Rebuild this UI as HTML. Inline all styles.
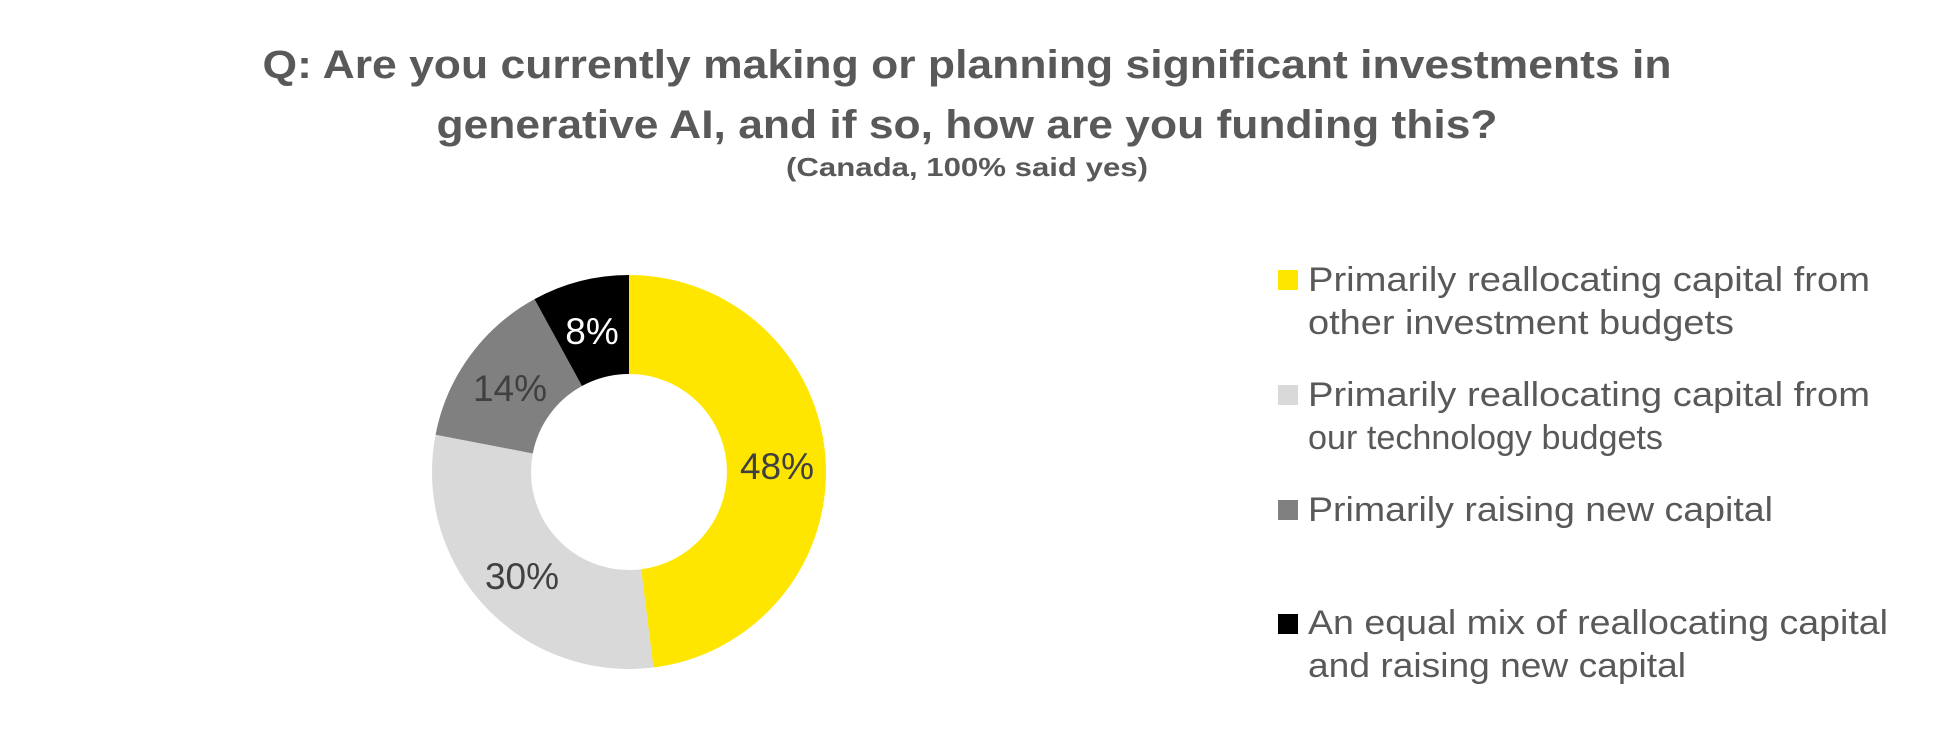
<!DOCTYPE html>
<html><head><meta charset="utf-8"><style>
html,body{margin:0;padding:0;background:#fff;}
svg{display:block;}
text{font-family:"Liberation Sans",sans-serif;}
</style></head><body>
<svg width="1935" height="756" viewBox="0 0 1935 756" xmlns="http://www.w3.org/2000/svg">
<g fill="#595959" font-weight="bold" text-anchor="middle">
<text x="967" y="78" font-size="40" textLength="1409" lengthAdjust="spacingAndGlyphs">Q: Are you currently making or planning significant investments in</text>
<text x="967" y="138" font-size="40" textLength="1061" lengthAdjust="spacingAndGlyphs">generative AI, and if so, how are you funding this?</text>
<text x="967" y="176" font-size="26" textLength="362" lengthAdjust="spacingAndGlyphs">(Canada, 100% said yes)</text>
</g>
<g transform="rotate(-90 629 472)" fill="none" stroke-width="99">
<circle cx="629" cy="472" r="147.5" stroke="#FFE600" stroke-dasharray="444.85 1000" stroke-dashoffset="0"/>
<circle cx="629" cy="472" r="147.5" stroke="#D9D9D9" stroke-dasharray="278.03 1000" stroke-dashoffset="-444.85"/>
<circle cx="629" cy="472" r="147.5" stroke="#808080" stroke-dasharray="129.75 1000" stroke-dashoffset="-722.88"/>
<circle cx="629" cy="472" r="147.5" stroke="#000000" stroke-dasharray="74.14 1000" stroke-dashoffset="-852.63"/>
</g>
<g font-size="37" text-anchor="middle" fill="#404040">
<text x="777" y="479">48%</text>
<text x="522" y="589">30%</text>
<text x="510" y="401">14%</text>
<text x="592" y="344" fill="#fff">8%</text>
</g>
<rect x="1278" y="270" width="20" height="20" fill="#FFE600"/>
<rect x="1278" y="385" width="20" height="20" fill="#D9D9D9"/>
<rect x="1278" y="500" width="20" height="20" fill="#808080"/>
<rect x="1278" y="614" width="20" height="20" fill="#000"/>
<g fill="#595959" font-size="34">
<text x="1308" y="291" textLength="562" lengthAdjust="spacingAndGlyphs">Primarily reallocating capital from</text>
<text x="1308" y="334" textLength="426" lengthAdjust="spacingAndGlyphs">other investment budgets</text>
<text x="1308" y="406" textLength="562" lengthAdjust="spacingAndGlyphs">Primarily reallocating capital from</text>
<text x="1308" y="449" textLength="355" lengthAdjust="spacingAndGlyphs">our technology budgets</text>
<text x="1308" y="521" textLength="465" lengthAdjust="spacingAndGlyphs">Primarily raising new capital</text>
<text x="1308" y="634" textLength="580" lengthAdjust="spacingAndGlyphs">An equal mix of reallocating capital</text>
<text x="1308" y="677" textLength="378" lengthAdjust="spacingAndGlyphs">and raising new capital</text>
</g>
</svg>
</body></html>
